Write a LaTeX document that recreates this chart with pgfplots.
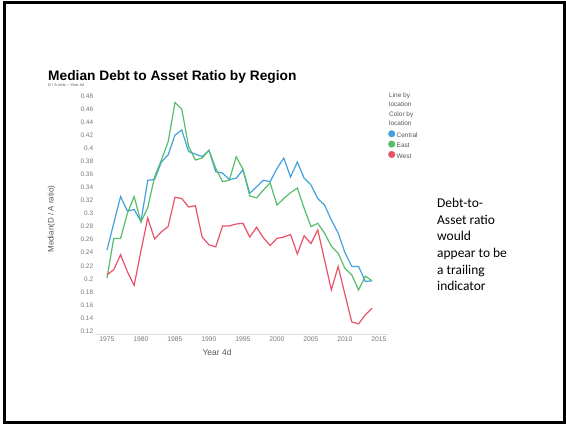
\documentclass[border=0pt]{standalone}
\usepackage{pgfplots}
\pgfplotsset{compat=1.18}
\usepackage{pgfplotstable}
\usepackage{fontspec}
\setmainfont{Liberation Sans}
\newfontfamily\carlito{Carlito}
\definecolor{cblue}{RGB}{66,160,222}
\definecolor{cgreen}{RGB}{84,190,106}
\definecolor{cred}{RGB}{232,82,104}
\definecolor{ticktext}{RGB}{120,120,120}
\definecolor{labtext}{RGB}{85,85,85}
\pgfplotstableread{
year central east west
1975 0.244 0.201 0.206
1976 0.285 0.262 0.214
1977 0.326 0.262 0.237
1978 0.304 0.300 0.211
1979 0.306 0.326 0.190
1980 0.288 0.287 0.243
1981 0.351 0.309 0.293
1982 0.352 0.356 0.261
1983 0.379 0.382 0.272
1984 0.390 0.410 0.280
1985 0.420 0.470 0.325
1986 0.428 0.460 0.323
1987 0.395 0.403 0.310
1988 0.391 0.382 0.312
1989 0.387 0.385 0.264
1990 0.397 0.397 0.252
1991 0.364 0.369 0.249
1992 0.362 0.349 0.281
1993 0.352 0.351 0.281
1994 0.354 0.387 0.284
1995 0.367 0.368 0.285
1996 0.331 0.327 0.264
1997 0.341 0.324 0.279
1998 0.351 0.336 0.263
1999 0.349 0.347 0.251
2000 0.369 0.313 0.262
2001 0.385 0.323 0.264
2002 0.356 0.332 0.268
2003 0.379 0.339 0.238
2004 0.354 0.308 0.266
2005 0.344 0.280 0.254
2006 0.323 0.285 0.275
2007 0.313 0.270 0.229
2008 0.290 0.250 0.183
2009 0.270 0.239 0.219
2010 0.240 0.216 0.176
2011 0.219 0.206 0.134
2012 0.219 0.183 0.131
2013 0.196 0.204 0.145
2014 0.197 0.197 0.155
}\datatable
\begin{document}
\begin{tikzpicture}
\useasboundingbox (0bp,0bp) rectangle (566bp,424bp);
\draw[line width=3bp] (4.5bp,1.5bp) rectangle (564.5bp,421.5bp);
\node[anchor=base west, inner sep=0pt, font=\fontsize{13.8}{15}\selectfont\bfseries] at (48bp,343bp) {Median Debt to Asset Ratio by Region};
\node[anchor=base west, inner sep=0pt, font=\fontsize{4}{5}\selectfont, text=labtext] at (48bp,337.5bp) {D / A ratio -- Year 4d};
\begin{scope}[every node/.style={anchor=base west, inner sep=0pt, font=\fontsize{6.5}{7}\selectfont, text=labtext}]
\node at (389bp,326.7bp) {Line by};
\node at (389bp,317.7bp) {location};
\node at (389bp,307.4bp) {Color by};
\node at (389bp,298.4bp) {location};
\end{scope}
\begin{scope}[every node/.style={anchor=base west, inner sep=0pt, font=\carlito\fontsize{13.5}{16}\selectfont}]
\node at (437bp,216.5bp) {Debt-to-};
\node at (437bp,199.8bp) {Asset ratio};
\node at (437bp,183.1bp) {would};
\node at (437bp,166.4bp) {appear to be};
\node at (437bp,149.7bp) {a trailing};
\node at (437bp,133bp) {indicator};
\end{scope}
\begin{axis}[
  at={(95.4bp,90bp)}, anchor=south west,
  scale only axis, width=292.4bp, height=244.5bp,
  xmin=1973.3, xmax=2016.3, ymin=0.1155, ymax=0.49,
  axis x line*=bottom, axis y line*=left,
  x axis line style={draw=black!13, line width=0.6bp, -},
  y axis line style={draw=none},
  major tick length=0pt,
  xtick={1975,1980,...,2015},
  ytick={0.12,0.14,0.16,0.18,0.2,0.22,0.24,0.26,0.28,0.3,0.32,0.34,0.36,0.38,0.4,0.42,0.44,0.46,0.48},
  /pgf/number format/assume math mode=true,
  xticklabel style={/pgf/number format/1000 sep=, font=\fontsize{6.8}{8}\selectfont, text=ticktext, anchor=north, inner sep=0pt, yshift=-3bp},
  yticklabel style={/pgf/number format/fixed, /pgf/number format/precision=2, font=\fontsize{6.5}{8}\selectfont, text=ticktext, anchor=east, inner sep=0pt, xshift=-2bp},
  xlabel={Year 4d},
  xlabel style={at={(axis description cs:0.416,-0.074)}, anchor=center, font=\fontsize{8.5}{10}\selectfont, text=labtext},
  ylabel={Median(D / A ratio)},
  ylabel style={at={(axis description cs:-0.15,0.47)}, anchor=center, font=\fontsize{8}{10}\selectfont, text=labtext},
  legend style={at={(axis description cs:1.0007,0.834)}, anchor=north west, draw=none, fill=none, inner sep=0pt, row sep=1.3bp, font=\fontsize{6.5}{7}\selectfont, text=labtext, nodes={inner sep=0.5bp, text height=5bp, text depth=1.5bp}, /tikz/column sep=1bp},
  legend cell align=left,
  clip=false,
]
\addplot[cblue, line width=1.2bp, forget plot] table[x=year, y=central] {\datatable};
\addplot[cgreen, line width=1.2bp, forget plot] table[x=year, y=east] {\datatable};
\addplot[cred, line width=1.2bp, forget plot] table[x=year, y=west] {\datatable};
\addlegendimage{legend image code/.code={\fill[cblue] (0bp,1.8bp) circle (3.3bp);}}
\addlegendentry{Central}
\addlegendimage{legend image code/.code={\fill[cgreen] (0bp,1.8bp) circle (3.3bp);}}
\addlegendentry{East}
\addlegendimage{legend image code/.code={\fill[cred] (0bp,1.8bp) circle (3.3bp);}}
\addlegendentry{West}
\end{axis}
\end{tikzpicture}
\end{document}
